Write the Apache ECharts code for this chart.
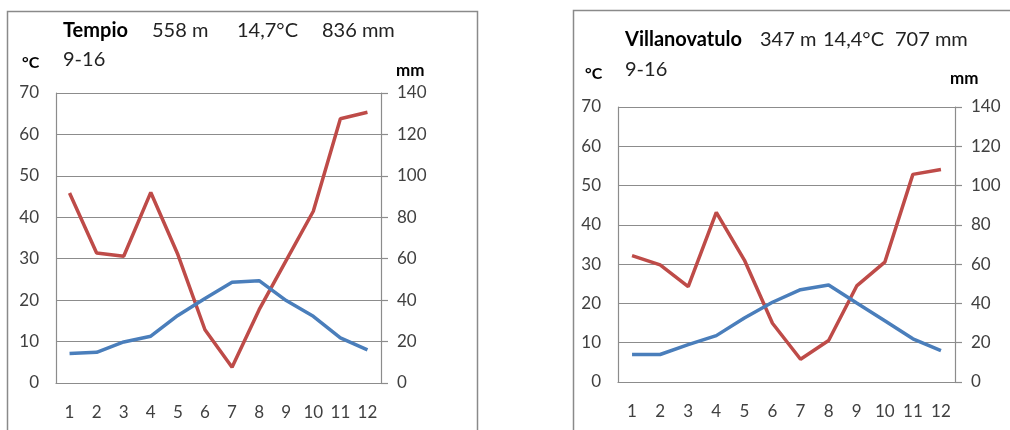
<!DOCTYPE html>
<html>
<head>
<meta charset="utf-8">
<script src="https://cdn.jsdelivr.net/npm/echarts@6/dist/echarts.min.js"></script>
<style>html,body{margin:0;padding:0;background:#fff}#c{width:1010px;height:430px}</style>
</head>
<body>
<div id="c"></div>
<script>
const months = ['1','2','3','4','5','6','7','8','9','10','11','12'];
const tempioTemp = [7.1, 7.4, 9.9, 11.3, 16.3, 20.4, 24.3, 24.7, 19.9, 16.1, 10.9, 8.0];
const tempioPrec = [91.7, 62.8, 61.2, 92.0, 62.0, 25.7, 7.6, 35.4, 59.2, 82.9, 127.6, 130.7];
const villaTemp = [7.0, 7.0, 9.5, 11.8, 16.3, 20.3, 23.5, 24.7, 20.1, 15.6, 11.0, 8.0];
const villaPrec = [64.3, 59.6, 48.6, 86.3, 62.1, 29.9, 11.6, 21.1, 48.9, 61.0, 105.7, 108.2];
const tempTitles = ['Tempio', 'Villanovatulo'];
const tempInfo = [['558 m', '14,7°C', '836 mm'], ['347 m', '14,4°C', '707 mm']];
const period = '9-16';

const FONT = 'Lato, "Open Sans", sans-serif';
const TXT = '#404040';
const GRID = '#8c8c8c';
const BLUE = '#4a7ebb';
const RED = '#be4b48';

const chart = echarts.init(document.getElementById('c'));

function xAxis(gi){
  return {type:'category', gridIndex:gi, data:months, boundaryGap:true,
    axisLine:{lineStyle:{color:GRID,width:1.2}}, axisTick:{show:false},
    axisLabel:{color:TXT,fontSize:17,fontFamily:FONT,margin:21}};
}
function yLeft(gi){
  return {type:'value', gridIndex:gi, min:0, max:70, interval:10, position:'left',
    axisLine:{show:true,lineStyle:{color:GRID,width:1.2}}, axisTick:{show:false},
    splitLine:{lineStyle:{color:GRID,width:1.2}},
    axisLabel:{color:TXT,fontSize:17,fontFamily:FONT,margin:17}};
}
function yRight(gi){
  return {type:'value', gridIndex:gi, min:0, max:140, interval:20, position:'right',
    axisLine:{show:true,lineStyle:{color:GRID,width:1.2}},
    axisTick:{show:true,length:7,lineStyle:{color:GRID,width:1.2}},
    splitLine:{show:false},
    axisLabel:{color:TXT,fontSize:17,fontFamily:FONT,margin:16}};
}
function line(xi, yi, data, color){
  return {type:'line', xAxisIndex:xi, yAxisIndex:yi, data:data, symbol:'none',
    lineStyle:{color:color,width:3.5}, itemStyle:{color:color}, animation:false, z:3};
}
function txt(x, y, s, bold, size){
  return {type:'text', left:x, top:y, style:{text:s, fill:bold? '#000' : '#222',
    font:(bold?'bold ':'')+(size||20)+'px '+FONT}};
}

chart.setOption({
  animation:false,
  grid:[
    {left:56, top:93, width:325, height:290},
    {left:618, top:107, width:337, height:275}
  ],
  xAxis:[xAxis(0), xAxis(1)],
  yAxis:[yLeft(0), yRight(0), yLeft(1), yRight(1)],
  series:[
    line(0, 1, tempioPrec, RED),
    line(0, 0, tempioTemp, BLUE),
    line(1, 3, villaPrec, RED),
    line(1, 2, villaTemp, BLUE)
  ],
  graphic:[
    {type:'rect', shape:{x:7.5, y:11.5, width:470, height:440}, style:{fill:'none', stroke:'#8a8a8a', lineWidth:1.5}},
    {type:'rect', shape:{x:573.5, y:10.5, width:460, height:440}, style:{fill:'none', stroke:'#8a8a8a', lineWidth:1.5}},
    txt(63, 21, tempTitles[0], true),
    txt(152, 21, tempInfo[0][0]),
    txt(237, 21, tempInfo[0][1]),
    txt(322, 21, tempInfo[0][2]),
    txt(63, 50, period),
    txt(22, 55, '°C', true, 16),
    txt(396, 62, 'mm', true, 17),
    txt(625, 30, tempTitles[1], true),
    txt(760, 30, tempInfo[1][0]),
    txt(823, 30, tempInfo[1][1]),
    txt(895, 30, tempInfo[1][2]),
    txt(625, 60, period),
    txt(585, 66, '°C', true, 16),
    txt(950, 70, 'mm', true, 17)
  ]
});
</script>
</body>
</html>
